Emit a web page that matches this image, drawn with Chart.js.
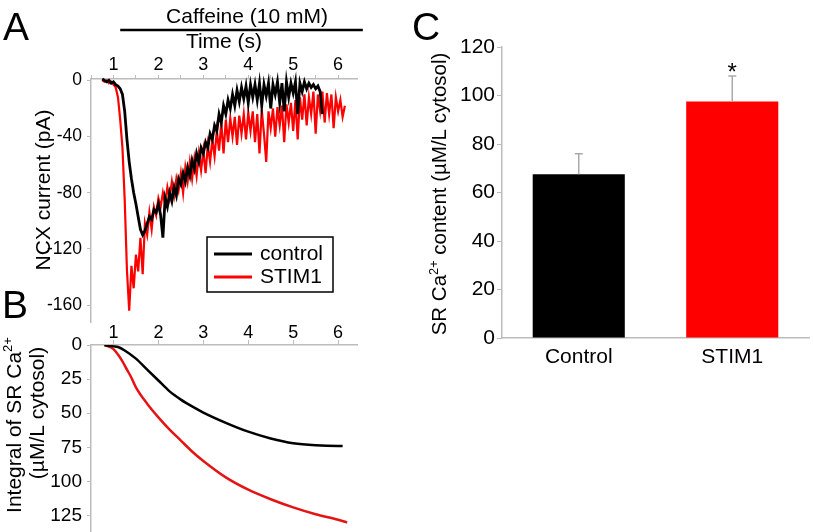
<!DOCTYPE html>
<html>
<head>
<meta charset="utf-8">
<script src="https://cdn.jsdelivr.net/npm/chart.js@4.4.0/dist/chart.umd.min.js"></script>
<style>
  html, body { margin: 0; padding: 0; background: #fff; }
  #wrap { position: relative; width: 813px; height: 532px; overflow: hidden; }
  #wrap canvas { position: absolute; left: 0; top: 0; }
</style>
</head>
<body>
<div id="wrap">
  <canvas id="chartA" width="813" height="532"></canvas>
  <canvas id="chartB" width="813" height="532"></canvas>
  <canvas id="chartC" width="813" height="532"></canvas>
</div>
<script>
// Panel A: NCX current traces (pA), sampled every 0.05 s
const timeA = [0.75, 0.8, 0.85, 0.9, 0.95, 1, 1.05, 1.1, 1.15, 1.2, 1.25, 1.3, 1.35, 1.4, 1.45, 1.5, 1.55, 1.6, 1.65, 1.7,
  1.75, 1.8, 1.85, 1.9, 1.95, 2, 2.05, 2.1, 2.15, 2.2, 2.25, 2.3, 2.35, 2.4, 2.45, 2.5, 2.55, 2.6, 2.65, 2.7,
  2.75, 2.8, 2.85, 2.9, 2.95, 3, 3.05, 3.1, 3.15, 3.2, 3.25, 3.3, 3.35, 3.4, 3.45, 3.5, 3.55, 3.6, 3.65, 3.7,
  3.75, 3.8, 3.85, 3.9, 3.95, 4, 4.05, 4.1, 4.15, 4.2, 4.25, 4.3, 4.35, 4.4, 4.45, 4.5, 4.55, 4.6, 4.65, 4.7,
  4.75, 4.8, 4.85, 4.9, 4.95, 5, 5.05, 5.1, 5.15, 5.2, 5.25, 5.3, 5.35, 5.4, 5.45, 5.5, 5.55, 5.6, 5.65, 5.7,
  5.75, 5.8, 5.85, 5.9, 5.95, 6, 6.05, 6.1, 6.15];
const controlCurrent = [1, 0, -1, 0, -2, -1, -3, -4, -6, -10,
  -22, -42, -58, -70, -80, -88, -97, -106, -110, -107,
  -102, -97, -99, -92, -94, -88, -96, -112, -84, -90,
  -80, -86, -76, -82, -70, -74, -66, -72, -62, -68,
  -57, -63, -52, -58, -48, -52, -44, -48, -38, -42,
  -32, -36, -24, -30, -18, -24, -14, -20, -10, -18,
  -7, -15, -5, -13, -4, -16, -3, -12, -3, -14,
  -2, -18, -3, -11, -2, -20, -3, -10, -1, -16,
  -2, -22, -1, -12, -2, -9, -1, -24, -2, -8,
  -1, -6, -2, -5, -3, -6, -4, -8, -24,
  null, null, null, null, null, null, null, null, null, null];
const stimCurrent = [0, -1, 0, -2, -1, -3, -5, -12, -28, -48,
  -85, -135, -164, -132, -148, -124, -136, -112, -138, -102,
  -110, -94, -106, -90, -96, -84, -90, -80, -88, -76,
  -84, -72, -82, -70, -78, -66, -80, -62, -72, -58,
  -70, -56, -68, -52, -64, -50, -66, -46, -58, -42,
  -54, -36, -50, -30, -52, -28, -44, -27, -40, -26,
  -46, -25, -38, -24, -42, -23, -36, -22, -44, -24,
  -52, -21, -38, -58, -22, -34, -20, -40, -19, -32,
  -18, -44, -17, -30, -16, -36, -14, -42, -12, -28,
  -10, -32, -12, -24, -8, -38, -10, -22, -8, -30,
  -9, -24, -10, -34, -12, -22, -14, -26, -18];
const timeTicksA = [0.5, 1, 1.5, 2, 2.5, 3, 3.5, 4, 4.5, 5, 5.5, 6];
const currentTicks = [0, -40, -80, -120, -160];

// Panel B: integral of SR Ca2+ (µM/L cytosol)
const controlIntTime = [0.8, 1.0, 1.1, 1.25, 1.5, 1.75, 2.0, 2.25, 2.5, 2.75, 3.0, 3.5, 4.0, 4.5, 5.0, 5.5, 6.0, 6.1];
const controlInt = [0, 1, 1.5, 4, 10, 18, 26, 34, 40, 45, 49.5, 57, 63.5, 68.5, 72, 73.5, 74, 74];
const stimIntTime = [0.8, 1.0, 1.1, 1.2, 1.3, 1.4, 1.5, 1.75, 2.0, 2.25, 2.5, 2.75, 3.0, 3.5, 4.0, 4.5, 5.0, 5.5, 6.0, 6.2];
const stimInt = [0, 3, 7, 12, 18, 24, 31, 43, 53, 62, 70, 78, 85, 97, 106, 113, 119, 124, 128, 130];
const timeTicksB = [1, 2, 3, 4, 5, 6];
const integralTicks = [0, 25, 50, 75, 100, 125];

// Panel C: SR Ca2+ content
const groups = ['Control', 'STIM1'];
const contentMean = [67.5, 97.5];
const contentErr = [8.5, 10.5];
const contentTicks = [0, 20, 40, 60, 80, 100, 120];

const fontFam = '"Liberation Sans", Arial, sans-serif';
const axisGrey = '#bcbcbc';
Chart.defaults.font.family = fontFam;
Chart.defaults.color = '#000';

function setTicks(list) {
    return axis => { axis.ticks = list.map(v => ({ value: v })); };
}

// fixed box size, no extra edge padding from the scale
function fixWidth(w) {
    return ax => { ax.width = w; ax.paddingTop = 0; ax.paddingBottom = 0; };
}
function fixHeight(h) {
    return ax => { ax.height = h; ax.paddingLeft = 0; ax.paddingRight = 0; };
}

function pairs(xs, ys) {
    return xs.map((x, i) => ({ x: x, y: ys[i] }));
}

// rotated axis title with optional superscript pieces
function drawVertical(ctx, parts, cx, cy, size) {
    ctx.save();
    ctx.translate(cx, cy);
    ctx.rotate(-Math.PI / 2);
    ctx.fillStyle = '#000';
    ctx.textBaseline = 'alphabetic';
    const sizes = parts.map(p => p.sup ? size * 0.62 : size);
    const widths = parts.map((p, i) => {
        ctx.font = sizes[i] + 'px ' + fontFam;
        return ctx.measureText(p.t).width;
    });
    let x = -widths.reduce((a, b) => a + b, 0) / 2;
    const base = size * 0.36;
    parts.forEach((p, i) => {
        ctx.font = sizes[i] + 'px ' + fontFam;
        ctx.fillText(p.t, x, p.sup ? base - size * 0.4 : base);
        x += widths[i];
    });
    ctx.restore();
}

function letter(ctx, txt, x, y) {
    ctx.save();
    ctx.font = '39px ' + fontFam;
    ctx.fillStyle = '#000';
    ctx.textBaseline = 'alphabetic';
    ctx.fillText(txt, x, y);
    ctx.restore();
}

const caffeineStart = 1.15;
const caffeineEnd = 6.55;

const decorA = {
    id: 'decorA',
    afterDraw(chart) {
        const { ctx, chartArea } = chart;
        const xs = chart.scales.x;
        letter(ctx, 'A', 3, 40);
        letter(ctx, 'B', 2, 318);

        // caffeine bar
        const x1 = xs.getPixelForValue(caffeineStart);
        const x2 = xs.getPixelForValue(caffeineEnd);
        ctx.save();
        ctx.strokeStyle = '#000';
        ctx.lineWidth = 2.5;
        ctx.beginPath();
        ctx.moveTo(x1, 30);
        ctx.lineTo(x2, 30);
        ctx.stroke();
        ctx.font = '21px ' + fontFam;
        ctx.fillStyle = '#000';
        ctx.textAlign = 'center';
        ctx.textBaseline = 'alphabetic';
        ctx.fillText('Caffeine (10 mM)', 247, 23);
        ctx.restore();

        drawVertical(ctx, [{ t: 'NCX current (pA)' }], 42, 190, 21);

        // legend box
        const lx = chartArea.left + 116, ly = chartArea.top + 158;
        ctx.save();
        ctx.strokeStyle = '#000';
        ctx.lineWidth = 1.5;
        ctx.strokeRect(lx, ly, 126, 55);
        chart.data.datasets.forEach((ds, i) => {
            const yy = ly + 17 + i * 23;
            ctx.strokeStyle = ds.borderColor;
            ctx.lineWidth = 3;
            ctx.beginPath();
            ctx.moveTo(lx + 7, yy);
            ctx.lineTo(lx + 45, yy);
            ctx.stroke();
            ctx.fillStyle = '#000';
            ctx.font = '21px ' + fontFam;
            ctx.textBaseline = 'middle';
            ctx.fillText(ds.label, lx + 53, yy);
        });
        ctx.restore();
    }
};

new Chart(document.getElementById('chartA'), {
    type: 'line',
    data: {
        datasets: [
            { label: 'control', data: pairs(timeA, controlCurrent), borderColor: '#000', borderWidth: 2.8, pointRadius: 0, clip: false },
            { label: 'STIM1', data: pairs(timeA, stimCurrent), borderColor: '#ff0000', borderWidth: 2.2, pointRadius: 0, clip: false }
        ]
    },
    options: {
        responsive: false,
        animation: false,
        layout: { padding: { left: 0, top: 0, right: 456, bottom: 210 } },
        plugins: { legend: { display: false }, tooltip: { enabled: false } },
        scales: {
            x: {
                type: 'linear', position: 'top', min: 0.5, max: 6.42,
                afterBuildTicks: setTicks(timeTicksA),
                afterFit: fixHeight(79),
                grid: { drawOnChartArea: false, tickLength: 4, color: axisGrey },
                border: { color: axisGrey, width: 1.5 },
                ticks: { font: { size: 18 }, padding: -1, maxRotation: 0, autoSkip: false,
                    callback: v => Number.isInteger(v) ? String(v) : '' },
                title: { display: true, text: 'Time (s)', font: { size: 21 }, padding: { top: 30, bottom: 0 } }
            },
            y: {
                min: -172, max: 1,
                afterBuildTicks: setTicks(currentTicks),
                afterFit: fixWidth(91),
                grid: { drawOnChartArea: false, tickLength: 4, color: axisGrey },
                border: { color: axisGrey, width: 1.5 },
                ticks: { font: { size: 17.5 }, padding: 5 }
            }
        }
    },
    plugins: [decorA]
});

const decorB = {
    id: 'decorB',
    afterDraw(chart) {
        const ctx = chart.ctx;
        drawVertical(ctx, [{ t: 'Integral of SR Ca' }, { t: '2+', sup: true }], 13, 425, 21);
        drawVertical(ctx, [{ t: '(\u00b5M/L cytosol)' }], 36, 413, 21);
    }
};

new Chart(document.getElementById('chartB'), {
    type: 'line',
    data: {
        datasets: [
            { label: 'control', data: pairs(controlIntTime, controlInt), borderColor: '#000', borderWidth: 2.5, pointRadius: 0, cubicInterpolationMode: 'monotone' },
            { label: 'STIM1', data: pairs(stimIntTime, stimInt), borderColor: '#e31414', borderWidth: 2.5, pointRadius: 0, cubicInterpolationMode: 'monotone' }
        ]
    },
    options: {
        responsive: false,
        animation: false,
        layout: { padding: { left: 0, top: 319, right: 456, bottom: 0 } },
        plugins: { legend: { display: false }, tooltip: { enabled: false } },
        scales: {
            x: {
                type: 'linear', position: 'top', min: 0.5, max: 6.42,
                afterBuildTicks: setTicks(timeTicksB),
                afterFit: fixHeight(26),
                grid: { drawOnChartArea: false, tickLength: 5, color: axisGrey },
                border: { color: axisGrey, width: 1.5 },
                ticks: { font: { size: 18 }, padding: -4, maxRotation: 0, autoSkip: false }
            },
            y: {
                reverse: true, min: 0, max: 137,
                afterBuildTicks: setTicks(integralTicks),
                afterFit: fixWidth(91),
                grid: { drawOnChartArea: false, tickLength: 4, color: axisGrey },
                border: { color: axisGrey, width: 1.5 },
                ticks: { font: { size: 19 }, padding: 5 }
            }
        }
    },
    plugins: [decorB]
});

const decorC = {
    id: 'decorC',
    afterDatasetsDraw(chart) {
        const { ctx, scales } = chart;
        ctx.save();
        ctx.strokeStyle = '#aaaaaa';
        ctx.lineWidth = 1.5;
        contentMean.forEach((m, i) => {
            const x = scales.x.getPixelForValue(i);
            const yBar = scales.y.getPixelForValue(m);
            const yTop = scales.y.getPixelForValue(m + contentErr[i]);
            ctx.beginPath();
            ctx.moveTo(x, yBar);
            ctx.lineTo(x, yTop);
            ctx.moveTo(x - 4, yTop);
            ctx.lineTo(x + 4, yTop);
            ctx.stroke();
        });
        // significance mark over STIM1
        const xs = scales.x.getPixelForValue(1);
        const ys = scales.y.getPixelForValue(contentMean[1] + contentErr[1]);
        ctx.fillStyle = '#000';
        ctx.font = '24px ' + fontFam;
        ctx.textAlign = 'center';
        ctx.textBaseline = 'alphabetic';
        ctx.fillText('*', xs, ys + 4);
        ctx.restore();
    },
    afterDraw(chart) {
        const ctx = chart.ctx;
        letter(ctx, 'C', 412, 40);
        drawVertical(ctx, [{ t: 'SR Ca' }, { t: '2+', sup: true }, { t: ' content (\u00b5M/L cytosol)' }], 439, 194, 20.5);
    }
};

new Chart(document.getElementById('chartC'), {
    type: 'bar',
    data: {
        labels: groups,
        datasets: [{
            data: contentMean,
            backgroundColor: ['#000000', '#ff0000'],
            borderWidth: 0,
            barPercentage: 0.6,
            categoryPercentage: 1.0
        }]
    },
    options: {
        responsive: false,
        animation: false,
        layout: { padding: { left: 400, top: 47, right: 4, bottom: 154 } },
        plugins: { legend: { display: false }, tooltip: { enabled: false } },
        scales: {
            x: {
                afterFit: fixHeight(40),
                grid: { drawOnChartArea: false, drawTicks: false },
                border: { color: axisGrey, width: 1.5 },
                ticks: { font: { size: 21 }, padding: 7 }
            },
            y: {
                min: 0, max: 120,
                afterBuildTicks: setTicks(contentTicks),
                afterFit: fixWidth(102),
                grid: { drawOnChartArea: false, tickLength: 5, color: axisGrey },
                border: { color: axisGrey, width: 1.5 },
                ticks: { font: { size: 21 }, padding: 2 }
            }
        }
    },
    plugins: [decorC]
});
</script>
</body>
</html>
